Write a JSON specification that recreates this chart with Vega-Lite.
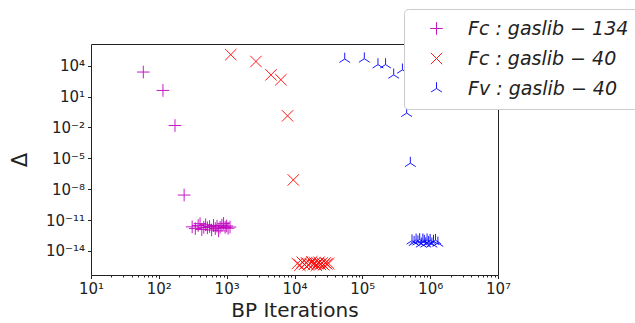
{
  "$schema": "https://vega.github.io/schema/vega-lite/v6.json",
  "width": 407,
  "height": 231,
  "autosize": {"type": "none"},
  "padding": {"left": 91, "top": 44, "right": 137, "bottom": 48},
  "background": "white",
  "config": {
    "font": "DejaVu Sans",
    "view": {"stroke": "#222222", "strokeWidth": 1},
    "axis": {
      "grid": false,
      "domain": false,
      "labelFont": "DejaVu Sans",
      "labelFontSize": 15,
      "labelColor": "#222222",
      "tickColor": "#222222",
      "titleFont": "DejaVu Sans",
      "titleFontSize": 20,
      "titleFontWeight": "normal",
      "titleColor": "#222222"
    },
    "legend": {
      "labelFont": "DejaVu Sans",
      "labelFontSize": 19,
      "labelFontStyle": "italic",
      "labelColor": "#222222",
      "labelLimit": 400
    }
  },
  "data": {
    "values": [
      {"series": "Fc : gaslib − 134", "x": 59, "y": 2450},
      {"series": "Fc : gaslib − 134", "x": 115, "y": 40},
      {"series": "Fc : gaslib − 134", "x": 173, "y": 0.0155},
      {"series": "Fc : gaslib − 134", "x": 236, "y": 2.7e-9},
      {"series": "Fc : gaslib − 134", "x": 310, "y": 2.2e-12},
      {"series": "Fc : gaslib − 134", "x": 345, "y": 1.5e-12},
      {"series": "Fc : gaslib − 134", "x": 380, "y": 3.0e-12},
      {"series": "Fc : gaslib − 134", "x": 405, "y": 4.5e-12},
      {"series": "Fc : gaslib − 134", "x": 430, "y": 1.2e-12},
      {"series": "Fc : gaslib − 134", "x": 460, "y": 2.0e-12},
      {"series": "Fc : gaslib − 134", "x": 490, "y": 3.5e-12},
      {"series": "Fc : gaslib − 134", "x": 520, "y": 1.8e-12},
      {"series": "Fc : gaslib − 134", "x": 560, "y": 2.4e-12},
      {"series": "Fc : gaslib − 134", "x": 600, "y": 1.1e-12},
      {"series": "Fc : gaslib − 134", "x": 640, "y": 3.0e-12},
      {"series": "Fc : gaslib − 134", "x": 680, "y": 1.5e-12},
      {"series": "Fc : gaslib − 134", "x": 720, "y": 2.6e-12},
      {"series": "Fc : gaslib − 134", "x": 760, "y": 0.9e-12},
      {"series": "Fc : gaslib − 134", "x": 800, "y": 2.0e-12},
      {"series": "Fc : gaslib − 134", "x": 850, "y": 3.2e-12},
      {"series": "Fc : gaslib − 134", "x": 900, "y": 4.8e-12},
      {"series": "Fc : gaslib − 134", "x": 950, "y": 2.0e-12},
      {"series": "Fc : gaslib − 134", "x": 1000, "y": 2.7e-12},
      {"series": "Fc : gaslib − 134", "x": 1050, "y": 1.6e-12},
      {"series": "Fc : gaslib − 134", "x": 1120, "y": 2.1e-12},
      {"series": "Fc : gaslib − 40", "x": 1150, "y": 120000},
      {"series": "Fc : gaslib − 40", "x": 2700, "y": 26000},
      {"series": "Fc : gaslib − 40", "x": 4500, "y": 1300},
      {"series": "Fc : gaslib − 40", "x": 6300, "y": 440},
      {"series": "Fc : gaslib − 40", "x": 7900, "y": 0.135},
      {"series": "Fc : gaslib − 40", "x": 9600, "y": 8e-8},
      {"series": "Fc : gaslib − 40", "x": 11000, "y": 6e-16},
      {"series": "Fc : gaslib − 40", "x": 12000, "y": 4e-16},
      {"series": "Fc : gaslib − 40", "x": 13000, "y": 8e-16},
      {"series": "Fc : gaslib − 40", "x": 14000, "y": 5e-16},
      {"series": "Fc : gaslib − 40", "x": 15000, "y": 7e-16},
      {"series": "Fc : gaslib − 40", "x": 16000, "y": 4.5e-16},
      {"series": "Fc : gaslib − 40", "x": 17000, "y": 6e-16},
      {"series": "Fc : gaslib − 40", "x": 18000, "y": 9e-16},
      {"series": "Fc : gaslib − 40", "x": 19000, "y": 5e-16},
      {"series": "Fc : gaslib − 40", "x": 20000, "y": 7e-16},
      {"series": "Fc : gaslib − 40", "x": 21000, "y": 4e-16},
      {"series": "Fc : gaslib − 40", "x": 22000, "y": 6e-16},
      {"series": "Fc : gaslib − 40", "x": 23000, "y": 8e-16},
      {"series": "Fc : gaslib − 40", "x": 24000, "y": 5e-16},
      {"series": "Fc : gaslib − 40", "x": 25500, "y": 6.5e-16},
      {"series": "Fc : gaslib − 40", "x": 27000, "y": 4.5e-16},
      {"series": "Fc : gaslib − 40", "x": 28500, "y": 7e-16},
      {"series": "Fc : gaslib − 40", "x": 30000, "y": 5.5e-16},
      {"series": "Fc : gaslib − 40", "x": 32000, "y": 6e-16},
      {"series": "Fv : gaslib − 40", "x": 55000, "y": 45000},
      {"series": "Fv : gaslib − 40", "x": 107000, "y": 48000},
      {"series": "Fv : gaslib − 40", "x": 170000, "y": 13000},
      {"series": "Fv : gaslib − 40", "x": 220000, "y": 13000},
      {"series": "Fv : gaslib − 40", "x": 290000, "y": 1300},
      {"series": "Fv : gaslib − 40", "x": 390000, "y": 4000},
      {"series": "Fv : gaslib − 40", "x": 450000, "y": 0.25},
      {"series": "Fv : gaslib − 40", "x": 510000, "y": 3.4e-6},
      {"series": "Fv : gaslib − 40", "x": 540000, "y": 1.0e-13},
      {"series": "Fv : gaslib − 40", "x": 580000, "y": 7e-14},
      {"series": "Fv : gaslib − 40", "x": 620000, "y": 1.2e-13},
      {"series": "Fv : gaslib − 40", "x": 660000, "y": 8e-14},
      {"series": "Fv : gaslib − 40", "x": 700000, "y": 1.3e-13},
      {"series": "Fv : gaslib − 40", "x": 740000, "y": 5e-14},
      {"series": "Fv : gaslib − 40", "x": 780000, "y": 1.2e-13},
      {"series": "Fv : gaslib − 40", "x": 820000, "y": 9e-14},
      {"series": "Fv : gaslib − 40", "x": 860000, "y": 5e-14},
      {"series": "Fv : gaslib − 40", "x": 900000, "y": 1.2e-13},
      {"series": "Fv : gaslib − 40", "x": 950000, "y": 7e-14},
      {"series": "Fv : gaslib − 40", "x": 1000000, "y": 1.1e-13},
      {"series": "Fv : gaslib − 40", "x": 1060000, "y": 5e-14},
      {"series": "Fv : gaslib − 40", "x": 1120000, "y": 9e-14},
      {"series": "Fv : gaslib − 40", "x": 1200000, "y": 1.1e-13},
      {"series": "Fv : gaslib − 40", "x": 1300000, "y": 6e-14}
    ]
  },
  "mark": {"type": "point", "filled": false, "strokeWidth": 1, "size": 160, "opacity": 0.9},
  "encoding": {
    "x": {
      "field": "x",
      "type": "quantitative",
      "scale": {"type": "log", "domain": [10, 10000000], "nice": false},
      "axis": {
        "title": "BP Iterations",
        "titlePadding": 4,
        "values": [10,20,30,40,50,60,70,80,90,100,200,300,400,500,600,700,800,900,1000,2000,3000,4000,5000,6000,7000,8000,9000,10000,20000,30000,40000,50000,60000,70000,80000,90000,100000,200000,300000,400000,500000,600000,700000,800000,900000,1000000,2000000,3000000,4000000,5000000,6000000,7000000,8000000,9000000,10000000],
        "tickSize": {"condition": {"test": "abs(log(datum.value)/LN10 - round(log(datum.value)/LN10)) < 0.0001", "value": 3.5}, "value": 2},
        "labelExpr": "abs(log(datum.value)/LN10 - round(log(datum.value)/LN10)) < 0.0001 ? '10' + replace(replace(replace(replace(replace(replace(replace(replace(replace(replace(replace('' + round(log(datum.value)/LN10), regexp('-','g'), '⁻'), regexp('0','g'), '⁰'), regexp('1','g'), '¹'), regexp('2','g'), '²'), regexp('3','g'), '³'), regexp('4','g'), '⁴'), regexp('5','g'), '⁵'), regexp('6','g'), '⁶'), regexp('7','g'), '⁷'), regexp('8','g'), '⁸'), regexp('9','g'), '⁹') : ''",
        "labelPadding": 3,
        "labelFlush": false,
        "labelOverlap": false
      }
    },
    "y": {
      "field": "y",
      "type": "quantitative",
      "scale": {"type": "log", "domain": [4.6e-17, 1.3e6], "nice": false},
      "axis": {
        "title": "Δ",
        "titleFontSize": 21,
        "titlePadding": 15,
        "values": [1e-14, 1e-11, 1e-8, 1e-5, 0.01, 10, 10000],
        "tickSize": 3.5,
        "labelExpr": "'10' + replace(replace(replace(replace(replace(replace(replace(replace(replace(replace(replace('' + round(log(datum.value)/LN10), regexp('-','g'), '⁻'), regexp('0','g'), '⁰'), regexp('1','g'), '¹'), regexp('2','g'), '²'), regexp('3','g'), '³'), regexp('4','g'), '⁴'), regexp('5','g'), '⁵'), regexp('6','g'), '⁶'), regexp('7','g'), '⁷'), regexp('8','g'), '⁸'), regexp('9','g'), '⁹')",
        "labelPadding": 3,
        "labelOverlap": false
      }
    },
    "color": {
      "field": "series",
      "type": "nominal",
      "scale": {
        "domain": ["Fc : gaslib − 134", "Fc : gaslib − 40", "Fv : gaslib − 40"],
        "range": ["#bf00bf", "#ff0000", "#0000ff"]
      },
      "legend": {
        "title": null,
        "orient": "none",
        "legendX": 313,
        "legendY": -35,
        "padding": 10,
        "rowPadding": 10,
        "symbolOffset": 13,
        "labelOffset": 22,
        "symbolSize": 160,
        "symbolStrokeWidth": 1,
        "symbolType": "circle",
        "fillColor": "white",
        "strokeColor": "#cccccc",
        "cornerRadius": 4
      }
    },
    "shape": {
      "field": "series",
      "type": "nominal",
      "scale": {
        "domain": ["Fc : gaslib − 134", "Fc : gaslib − 40", "Fv : gaslib − 40"],
        "range": ["M-1,0L1,0M0,-1L0,1", "M-0.9,-0.9L0.9,0.9M-0.9,0.9L0.9,-0.9", "M0,0L0,-1M0,0L-0.85,0.55M0,0L0.85,0.55"]
      },
      "legend": null
    }
  }
}
